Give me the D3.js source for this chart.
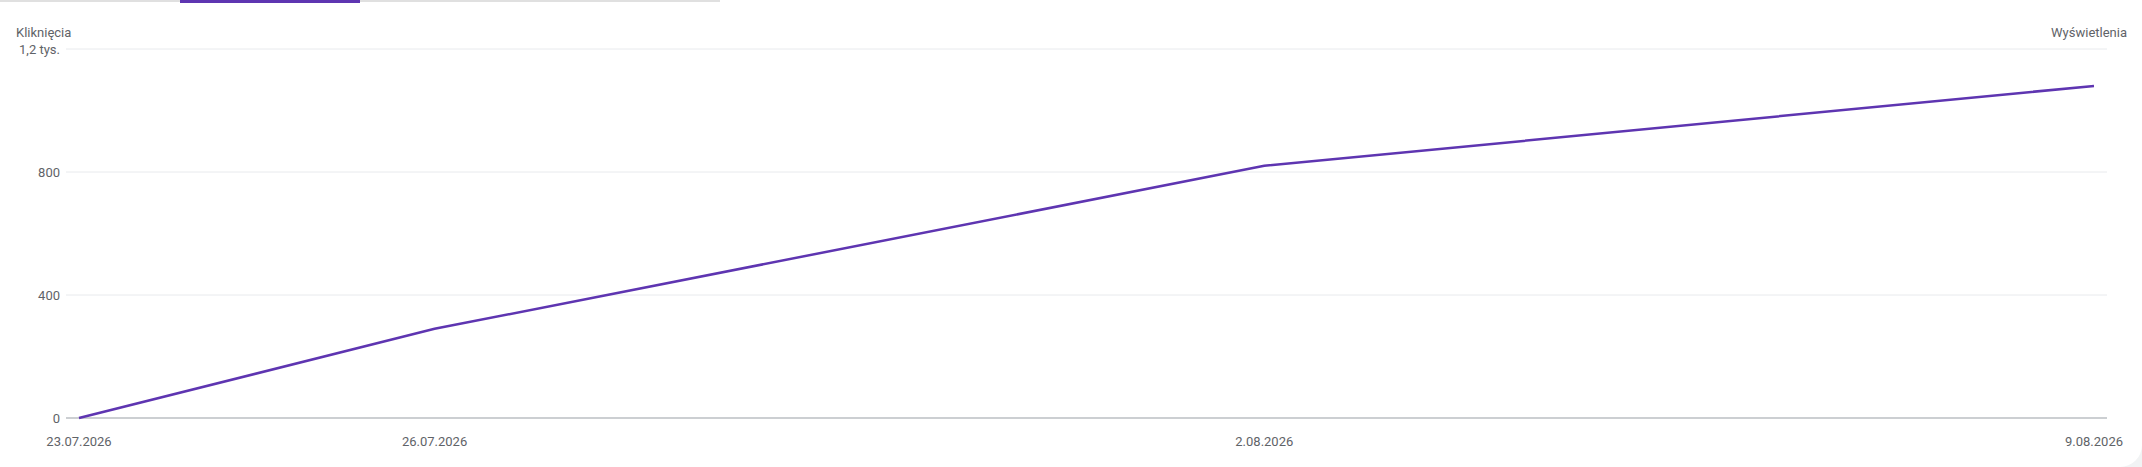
<!DOCTYPE html>
<html><head><meta charset="utf-8">
<script src="https://cdn.jsdelivr.net/npm/d3@7"></script>
<style>body{margin:0;background:#f1f3f4;font-family:Roboto,sans-serif}</style>
</head><body><svg id="c" width="2142" height="467"></svg>
<script>
const dates = ["2026-07-23","2026-07-26","2026-08-02","2026-08-09"];
const clicks = [0, 290, 820, 1080];
const yTicks = [0, 400, 800, 1200];
const yTickLabels = ["0","400","800","1,2 tys."];
const xTickLabels = ["23.07.2026","26.07.2026","2.08.2026","9.08.2026"];

const svg = d3.select("#c");
svg.append("rect").attr("x",-20).attr("y",-20).attr("width",2162).attr("height",487).attr("rx",22).attr("fill","#fff");
svg.append("rect").attr("x",0).attr("y",0).attr("width",720).attr("height",2).attr("fill","#e0e0e0");
svg.append("rect").attr("x",180).attr("y",0).attr("width",180).attr("height",3).attr("fill","#5e35b1");

const parse = d3.timeParse("%Y-%m-%d");
const x = d3.scaleTime().domain([parse(dates[0]), parse(dates[3])]).range([79, 2094]);
const y = d3.scaleLinear().domain([0,1200]).range([418, 49]);
const col = "#5f6368";

const g = svg.append("g");
yTicks.forEach((t,i)=>{
  if (t>0) g.append("line").attr("x1",66).attr("x2",2107).attr("y1",y(t)).attr("y2",y(t)).attr("stroke","#e8eaed");
  g.append("text").attr("x", 60).attr("y", y(t)).attr("dy","0.35em").attr("text-anchor","end")
   .attr("font-size",13).attr("fill",col).text(yTickLabels[i]);
});
g.append("line").attr("x1",66).attr("x2",2107).attr("y1",y(0)).attr("y2",y(0)).attr("stroke","#9aa0a6").attr("stroke-width",1.2);
dates.forEach((d,i)=>{
  g.append("text").attr("x", x(parse(d))).attr("y", 446).attr("text-anchor","middle")
   .attr("font-size",13).attr("fill",col).text(xTickLabels[i]);
});
g.append("text").attr("x",16).attr("y",37).attr("font-size",13).attr("fill",col).text("Kliknięcia");
g.append("text").attr("x",2127).attr("y",37).attr("text-anchor","end").attr("font-size",13).attr("fill",col).text("Wyświetlenia");

const line = d3.line().x((d,i)=>x(parse(dates[i]))).y(d=>y(d));
g.append("path").datum(clicks).attr("d",line).attr("fill","none").attr("stroke","#5e35b1").attr("stroke-width",2.5);
</script></body></html>
